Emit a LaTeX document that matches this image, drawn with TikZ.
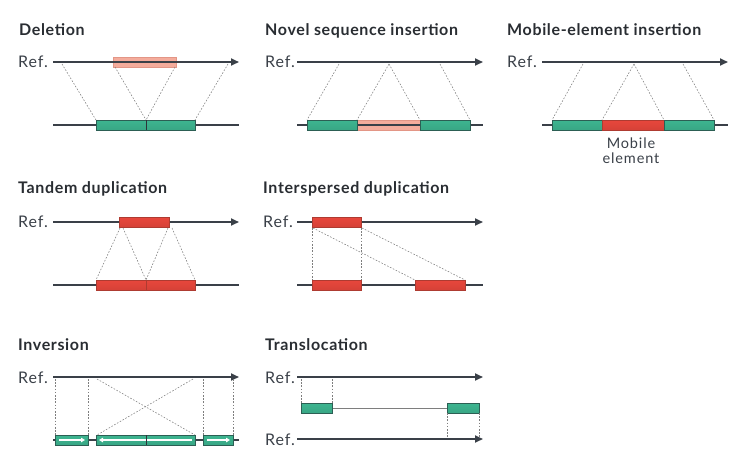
\documentclass[tikz,border=0pt]{standalone}
\usepackage{fontspec}
\setmainfont{Lato}
\newfontfamily\headfont{Lato}[LetterSpace=4]
\newfontfamily\labelfont{Lato}[LetterSpace=6]
\usepackage{xcolor}
\usetikzlibrary{arrows.meta}

\definecolor{lineclr}{HTML}{3A4048}
\definecolor{greenfill}{HTML}{3DB590}
\definecolor{greenlight}{HTML}{7DD5B9}
\definecolor{greenedge}{HTML}{2C5F54}
\definecolor{redfill}{HTML}{E8473C}
\definecolor{redlight}{HTML}{F58172}
\definecolor{rededge}{HTML}{AE3B31}
\definecolor{pinkfill}{HTML}{F4AC9C}
\definecolor{pinkedge}{HTML}{E39686}
\definecolor{linkclr}{HTML}{7E7E7E}

\tikzset{
  refline/.style={line width=1.8pt, draw=lineclr},
  refarrow/.style={refline, -{Triangle[length=8pt,width=7pt]}},
  gbox/.style={draw=greenedge, line width=0.6pt, top color=greenfill, middle color=greenlight, bottom color=greenfill!92!black},
  rbox/.style={draw=rededge, line width=0.6pt, top color=redfill, middle color=redlight, bottom color=redfill!92!black},
  pbox/.style={draw=pinkedge, line width=0.5pt, fill=pinkfill},
  link/.style={draw=linkclr, line width=0.55pt, dash pattern=on 1.6pt off 1.6pt},
  divider/.style={draw=lineclr!80!black, line width=0.7pt},
  flip/.style={draw=white, line width=1.3pt, -{Triangle[length=4pt,width=4.5pt]}},
  heading/.style={font=\headfont\bfseries\fontsize{16}{19}\selectfont, text=lineclr!70!black, anchor=base west, inner sep=0pt},
  reflabel/.style={font=\labelfont\fontsize{16}{18}\selectfont, text=lineclr, anchor=base west, inner sep=0pt}
}

\begin{document}
\begin{tikzpicture}[x=1pt, y=-1pt]
    \useasboundingbox (0,0) rectangle (752,467);

    % deletion
    \node[heading] (tdel) at (19,35) {Deletion};
    \node[reflabel] (rdel) at (18,67) {Ref.};
    \path[pbox] (113,57) rectangle (176,67);
    \draw[refarrow] (53,62) -- (239,62);
    \draw[refline] (53,125) -- (239,125);
    \draw[link] (62,64) -- (96,120);
    \draw[link] (115,67) -- (146,120);
    \draw[link] (175,67) -- (146,120);
    \draw[link] (228,64) -- (195,120);
    \path[gbox] (96,120) rectangle (195,130);
    \draw[divider] (146,120) -- (146,130);

    % novel sequence insertion
    \node[heading] (tnov) at (265,35) {Novel sequence insertion};
    \node[reflabel] (rnov) at (265,67) {Ref.};
    \draw[refarrow] (297,62) -- (483,62);
    \path[pbox] (357,120) rectangle (420,130);
    \draw[refline] (297,125) -- (483,125);
    \draw[link] (339,64) -- (307,120);
    \draw[link] (389,64) -- (357,120);
    \draw[link] (389,64) -- (420,120);
    \draw[link] (440,64) -- (470,120);
    \path[gbox] (307,120) rectangle (357,130);
    \path[gbox] (420,120) rectangle (470,130);

    % mobile-element insertion
    \node[heading] (tmob) at (507,35) {Mobile-element insertion};
    \node[reflabel] (rmob) at (507,67) {Ref.};
    \draw[refarrow] (542,62) -- (728,62);
    \draw[refline] (542,125) -- (728,125);
    \draw[link] (583,64) -- (552,120);
    \draw[link] (634,64) -- (602,120);
    \draw[link] (634,64) -- (664,120);
    \draw[link] (683,64) -- (714,120);
    \path[gbox] (552,120) rectangle (602,130);
    \path[rbox] (602,120) rectangle (664,130);
    \path[gbox] (664,120) rectangle (714,130);
    \node[font=\labelfont\fontsize{14.5}{15}\selectfont, text=lineclr, align=center, anchor=north, inner sep=0pt] (mob) at (631,138) {Mobile\\element};

    % tandem duplication
    \node[heading] (ttan) at (18,193) {Tandem duplication};
    \node[reflabel] (rtan) at (18,227) {Ref.};
    \draw[refarrow] (53,222) -- (239,222);
    \path[rbox] (119,217) rectangle (169,227);
    \draw[refline] (53,285) -- (239,285);
    \draw[link] (120,228) -- (96,280);
    \draw[link] (123,228) -- (146,280);
    \draw[link] (168,228) -- (146,280);
    \draw[link] (172,228) -- (195,280);
    \path[rbox] (96,280) rectangle (146,290);
    \path[rbox] (146,280) rectangle (195,290);

    % interspersed duplication
    \node[heading] (tint) at (263,193) {Interspersed duplication};
    \node[reflabel] (rint) at (263,227) {Ref.};
    \draw[refarrow] (297,222) -- (483,222);
    \path[rbox] (312,217) rectangle (361,227);
    \draw[refline] (297,285) -- (483,285);
    \draw[link] (312,228) -- (312,280);
    \draw[link] (361,228) -- (361,280);
    \draw[link] (313,228) -- (415,280);
    \draw[link] (362,228) -- (465,280);
    \path[rbox] (312,280) rectangle (361,290);
    \path[rbox] (415,280) rectangle (465,290);

    % inversion
    \node[heading] (tinv) at (18,350) {Inversion};
    \node[reflabel] (rinv) at (18,383) {Ref.};
    \draw[refarrow] (53,377) -- (239,377);
    \draw[refline] (53,440) -- (239,440);
    \foreach \x in {55,88,203,233}
        \draw[link] (\x,379) -- (\x,435);
    \draw[link] (97,379) -- (195,435);
    \draw[link] (193,379) -- (97,435);
    \path[gbox] (55,435) rectangle (88,445);
    \path[gbox] (96,435) rectangle (195,445);
    \path[gbox] (203,435) rectangle (233,445);
    \draw[flip] (59,440) -- (85,440);
    \draw[flip] (192,440) -- (99,440);
    \draw[flip] (207,440) -- (230,440);
    \draw[divider] (146,435) -- (146,445);

    % translocation
    \node[heading] (ttra) at (265,350) {Translocation};
    \node[reflabel] (rtra) at (265,383) {Ref.};
    \draw[refarrow] (297,377) -- (483,377);
    \draw[link] (301,379) -- (301,403);
    \draw[link] (332,379) -- (332,403);
    \draw[draw=linkclr, line width=1pt] (332,408) -- (447,408);
    \path[gbox] (301,403) rectangle (332,413);
    \path[gbox] (447,403) rectangle (479,413);
    \draw[link] (447,413) -- (447,437);
    \draw[link] (479,413) -- (479,437);
    \node[reflabel] (rtrb) at (265,445) {Ref.};
    \draw[refarrow] (297,439) -- (483,439);
\end{tikzpicture}
\end{document}
